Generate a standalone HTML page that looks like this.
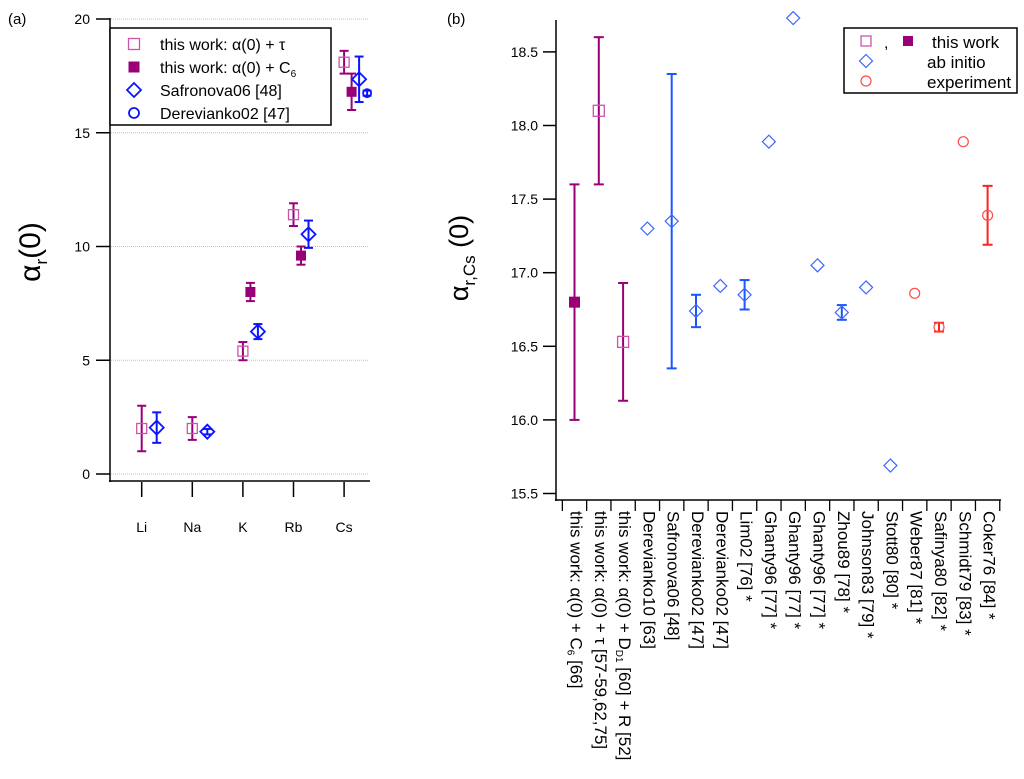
<!DOCTYPE html>
<html><head><meta charset="utf-8"><style>
html,body{margin:0;padding:0;background:#fff;}
svg{display:block;font-family:"Liberation Sans",Arial,sans-serif;}
</style></head><body>
<svg id="root" width="1024" height="779" viewBox="0 0 1024 779" xmlns="http://www.w3.org/2000/svg">
<g id="pa"></g>
<g id="pb"></g>
</svg>
<script>
// ---------- Panel (a) data ----------
const elementsA = ["Li","Na","K","Rb","Cs"];
const tauVal = [2.0, 2.0, 5.4, 11.4, 18.1];
const tauErr = [1.0, 0.5, 0.4, 0.5, 0.5];
const c6Val = [null, null, 8.0, 9.6, 16.8];
const c6Err = [null, null, 0.4, 0.4, 0.8];
const safVal = [2.04, 1.86, 6.26, 10.54, 17.35];
const safErr = [0.67, 0.12, 0.33, 0.6, 1.0];
const derVal = [null, null, null, null, 16.74];
const derErr = [null, null, null, null, 0.11];
const yTicksA = [0, 5, 10, 15, 20];

// ---------- Panel (b) data ----------
const refsB = ["this work: α(0) + C₆ [66]","this work: α(0) + τ [57-59,62,75]","this work: α(0) + D_D1 [60] + R [52]","Derevianko10 [63]","Safronova06 [48]","Derevianko02 [47]","Derevianko02 [47]","Lim02 [76] *","Ghanty96 [77] *","Ghanty96 [77] *","Ghanty96 [77] *","Zhou89 [78] *","Johnson83 [79] *","Stott80 [80] *","Weber87 [81] *","Safinya80 [82] *","Schmidt79 [83] *","Coker76 [84] *"];
const kindB = ["fill","open","open","ab","ab","ab","ab","ab","ab","ab","ab","ab","ab","ab","exp","exp","exp","exp"];
const valB = [16.8, 18.1, 16.53, 17.30, 17.35, 16.74, 16.91, 16.85, 17.89, 18.73, 17.05, 16.73, 16.90, 15.69, 16.86, 16.63, 17.89, 17.39];
const errB = [0.8, 0.5, 0.4, 0, 1.0, 0.11, 0, 0.1, 0, 0, 0, 0.05, 0, 0, 0, 0.03, 0, 0.2];
const yTicksB = [15.5, 16.0, 16.5, 17.0, 17.5, 18.0, 18.5];

const NS="http://www.w3.org/2000/svg";
function mk(parent, tag, attrs, text){
  const e=document.createElementNS(NS,tag);
  for(const k in attrs) e.setAttribute(k,attrs[k]);
  if(text!==undefined) e.textContent=text;
  parent.appendChild(e); return e;
}
const PURPLE="#990077", PINK="#cc55aa", BLUE="#0a14ff", LBLUE="#3f66ff", EBLUE="#1a55ff", RED="#ff2020", LRED="#ff4a4a";

// ---------- Panel (a) ----------
const pa=document.getElementById('pa');
const ya=v=>474-v*22.75;
const xa=i=>141.7+i*50.6;
mk(pa,'text',{x:8,y:24,'font-size':15,fill:'#000'},'(a)');
yTicksA.forEach(t=>{
  const g=mk(pa,'line',{x1:111,x2:369,y1:ya(t),y2:ya(t),stroke:'#b8b8ff','stroke-width':1,'stroke-dasharray':'1,1'});
  
  
  const tk=mk(pa,'line',{x1:96,x2:110,y1:ya(t),y2:ya(t),stroke:'#000','stroke-width':1.5});
  
  
  const l=mk(pa,'text',{x:90,y:ya(t)+5,'font-size':14,'text-anchor':'end'},String(t));
  
  
});
mk(pa,'line',{x1:110,x2:110,y1:18,y2:482,stroke:'#000','stroke-width':1.5,});
mk(pa,'line',{x1:109,x2:370,y1:481,y2:481,stroke:'#000','stroke-width':1.5,});
elementsA.forEach((n,i)=>{
  const tk=mk(pa,'line',{x1:xa(i),x2:xa(i),y1:482,y2:497,stroke:'#000','stroke-width':1.5});
  
  
  const l=mk(pa,'text',{x:xa(i),y:532,'font-size':14,'text-anchor':'middle'},n);
  
  
});
const yt=mk(pa,'text',{x:0,y:0,'font-size':30,'text-anchor':'middle',transform:'translate(40,252) rotate(-90)'});


yt.innerHTML='α<tspan font-size="17" dy="7">r</tspan><tspan dy="-7">(0)</tspan>';

function errbar(g,x,y1,y2,col,w){
  if(Math.abs(y2-y1)<0.5) return;
  mk(g,'line',{x1:x,x2:x,y1:y1,y2:y2,stroke:col,'stroke-width':2});
  mk(g,'line',{x1:x-w,x2:x+w,y1:y1,y2:y1,stroke:col,'stroke-width':2});
  mk(g,'line',{x1:x-w,x2:x+w,y1:y2,y2:y2,stroke:col,'stroke-width':2});
}
function marker(g,type,x,y,s){
  if(type==='open') mk(g,'rect',{x:x-s,y:y-s,width:2*s,height:2*s,fill:'none',stroke:PINK,'stroke-width':1.3});
  else if(type==='fill') mk(g,'rect',{x:x-s,y:y-s,width:2*s,height:2*s,fill:PURPLE});
  else if(type==='dia') mk(g,'polygon',{points:`${x},${y-s} ${x+s},${y} ${x},${y+s} ${x-s},${y}`,fill:'none',stroke:BLUE,'stroke-width':1.8});
  else if(type==='ab') mk(g,'polygon',{points:`${x},${y-s} ${x+s},${y} ${x},${y+s} ${x-s},${y}`,fill:'none',stroke:LBLUE,'stroke-width':1.2});
  else if(type==='circ') mk(g,'circle',{cx:x,cy:y,r:s,fill:'none',stroke:BLUE,'stroke-width':1.8});
  else if(type==='exp') mk(g,'circle',{cx:x,cy:y,r:s,fill:'none',stroke:LRED,'stroke-width':1.2});
}
const seriesA=[
  {v:tauVal,e:tauErr,off:0,t:'open',ec:PURPLE,s:5,name:'tau'},
  {v:c6Val,e:c6Err,off:7.5,t:'fill',ec:PURPLE,s:5,name:'c6'},
  {v:safVal,e:safErr,off:15,t:'dia',ec:BLUE,s:7,name:'safronova06'},
  {v:derVal,e:derErr,off:23,t:'circ',ec:BLUE,s:4,name:'derevianko02'}
];
seriesA.forEach(S=>{
  S.v.forEach((v,i)=>{
    if(v===null) return;
    const g=mk(pa,'g',{});
    
    
    const x=xa(i)+S.off;
    errbar(g,x,ya(v+S.e[i]),ya(v-S.e[i]),S.ec,4.5);
    marker(g,S.t,x,ya(v),S.s);
  });
});
// legend a
const la=mk(pa,'g',{});
mk(la,'rect',{x:110,y:28,width:221,height:97,fill:'#fff',stroke:'#000','stroke-width':1.5});
const legA=[['open','this work: α(0) + τ'],['fill','this work: α(0) + C<tspan font-size="10" dy="4">6</tspan>'],['dia','Safronova06 [48]'],['circ','Derevianko02 [47]']];
legA.forEach((L,i)=>{
  const y=44+i*23;
  const g=mk(la,'g',{});
  
  
  marker(g,L[0],134,y,L[0]==='dia'?7:(L[0]==='circ'?5:5.5));
  const t=mk(g,'text',{x:160,y:y+6,'font-size':16});
  t.innerHTML=L[1];
});

// ---------- Panel (b) ----------
const pb=document.getElementById('pb');
const yb=v=>493.5-(v-15.5)*147.2;
const xb=i=>574.5+i*24.3;
mk(pb,'text',{x:447,y:24,'font-size':15},'(b)');
yTicksB.forEach(t=>{
  const tk=mk(pb,'line',{x1:543,x2:556,y1:yb(t),y2:yb(t),stroke:'#000','stroke-width':1.5});
  
  
  const l=mk(pb,'text',{x:538,y:yb(t)+5,'font-size':14,'text-anchor':'end'},t.toFixed(1));
  
  
});
mk(pb,'line',{x1:556,x2:556,y1:20,y2:501,stroke:'#000','stroke-width':1.5,});
mk(pb,'line',{x1:555,x2:1001,y1:500,y2:500,stroke:'#000','stroke-width':1.5,});
for(let i=0;i<=refsB.length;i++){
  const x=xb(i)-12.15;
  const tk=mk(pb,'line',{x1:x,x2:x,y1:500,y2:511,stroke:'#000','stroke-width':1.3});
  
  
}
refsB.forEach((r,i)=>{
  const l=mk(pb,'text',{x:0,y:0,'font-size':17,transform:`translate(${xb(i)-4},511) rotate(90)`});
  
  
  if(r.includes('D_D1')) l.innerHTML='this work: α(0) + D<tspan font-size="10" dy="3">D1</tspan><tspan dy="-3"> [60] + R [52]</tspan>';
  else if(r.includes('C₆')) l.innerHTML='this work: α(0) + C<tspan font-size="10" dy="3">6</tspan><tspan dy="-3"> [66]</tspan>';
  else l.textContent=r;
});
const ytb=mk(pb,'text',{x:0,y:0,'font-size':27,'text-anchor':'middle',transform:'translate(468,258) rotate(-90)'});


ytb.innerHTML='α<tspan font-size="17" dy="7">r,Cs</tspan><tspan dy="-7"> (0)</tspan>';
valB.forEach((v,i)=>{
  const g=mk(pb,'g',{});
  
  
  const k=kindB[i];
  const ec=(k==='fill'||k==='open')?PURPLE:(k==='ab'?EBLUE:RED);
  const x=xb(i);
  if(errB[i]>0) errbar(g,x,yb(v+errB[i]),yb(v-errB[i]),ec,5);
  marker(g,k,x,yb(v),k==='ab'?6.5:(k==='exp'?5:5.5));
});
const lb=mk(pb,'g',{});
mk(lb,'rect',{x:844,y:28,width:173,height:65,fill:'#fff',stroke:'#000','stroke-width':1.5});
[['open',866,41],['fill',908,41],['ab',866,61],['exp',866,81]].forEach(m=>{
  const g=mk(lb,'g',{});
  
  
  marker(g,m[0],m[1],m[2],m[0]==='ab'?6.5:5);
});
mk(lb,'text',{x:884,y:48,'font-size':16},',');
mk(lb,'text',{x:932,y:48,'font-size':17},'this work');
mk(lb,'text',{x:927,y:68,'font-size':17},'ab initio');
mk(lb,'text',{x:927,y:88,'font-size':17},'experiment');
</script>
</body></html>
